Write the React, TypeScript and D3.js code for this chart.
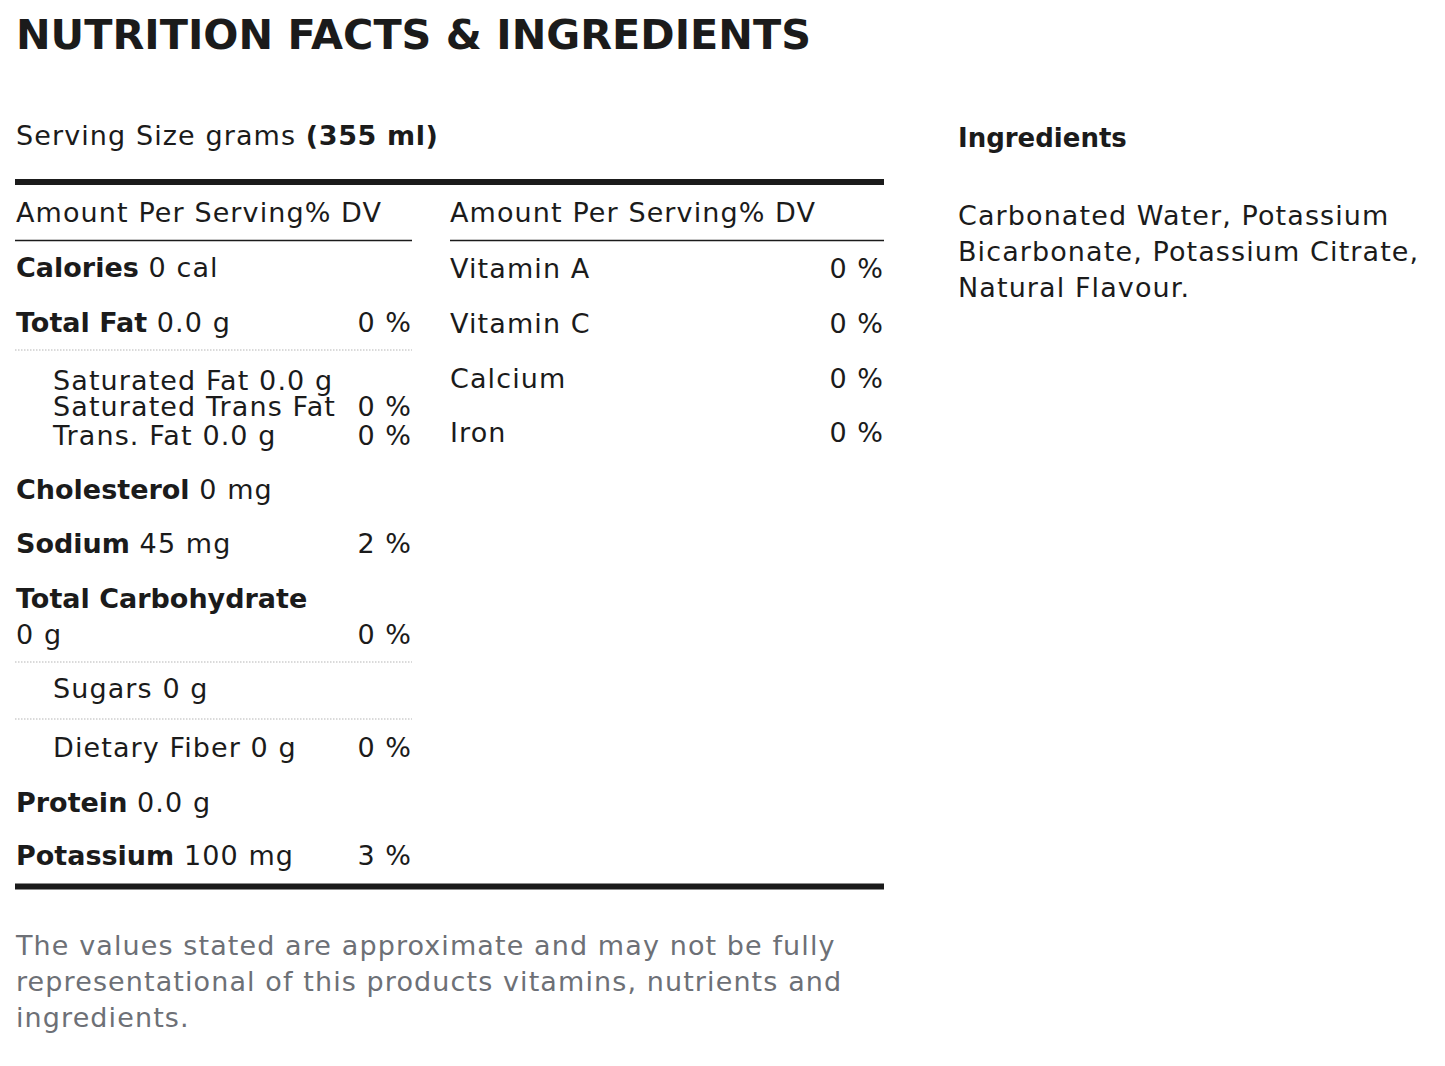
import React from "react";
import * as d3 from "d3";

const title = "NUTRITION FACTS & INGREDIENTS";
const servingLabel = "Serving Size grams ";
const servingValue = "(355 ml)";
const headerText = "Amount Per Serving% DV";

// Left column nutrients
const leftNames = ["Calories", "Total Fat", "Saturated Fat", "Saturated Trans Fat", "Trans. Fat", "Cholesterol", "Sodium", "Total Carbohydrate", "Sugars", "Dietary Fiber", "Protein", "Potassium"];
const leftAmounts = ["0 cal", "0.0 g", "0.0 g", "", "0.0 g", "0 mg", "45 mg", "0 g", "0 g", "0 g", "0.0 g", "100 mg"];
const leftDV = ["", "0 %", "", "0 %", "0 %", "", "2 %", "0 %", "", "0 %", "", "3 %"];
const leftBold = [true, true, false, false, false, true, true, true, false, false, true, true];
const leftIndent = [false, false, true, true, true, false, false, false, true, true, false, false];

// Right column vitamins
const rightNames = ["Vitamin A", "Vitamin C", "Calcium", "Iron"];
const rightDV = ["0 %", "0 %", "0 %", "0 %"];

const ingredientsTitle = "Ingredients";
const ingredientsLines = ["Carbonated Water, Potassium", "Bicarbonate, Potassium Citrate,", "Natural Flavour."];
const footerLines = [
  "The values stated are approximate and may not be fully",
  "representational of this products vitamins, nutrients and",
  "ingredients.",
];

// layout (baselines)
const leftBaselines = [277, 332, 390, 416, 445, 499, 553, 608, 698, 757, 812, 865];
const dottedYs = [350, 662, 719];
const rightBaselines = [278, 333, 388, 442];

const FONT = "'DejaVu Sans', sans-serif";
const INK = "#1b1b1b";
const FS = 27;
const LS = 1.1;

export default function App() {
  const W = 1445, H = 1066;
  const x = d3.scaleLinear().domain([0, 1]).range([16, 411]);
  const xr = d3.scaleLinear().domain([0, 1]).range([450, 883]);
  const reg = { fontSize: FS, fill: INK, letterSpacing: LS } as any;
  return (
    <svg width={W} height={H} style={{ position: "absolute", left: 0, top: 0, background: "#fff" }} fontFamily={FONT}>
      <rect width={W} height={H} fill="#fff" />
      <text x={16} y={49} fontSize={41} fontWeight={700} fill={INK} textLength={795} lengthAdjust="spacingAndGlyphs">{title}</text>
      <text x={16} y={145} {...reg}>
        {servingLabel}<tspan fontWeight={700} letterSpacing={0.6}>{servingValue}</tspan>
      </text>
      <line x1={15} x2={884} y1={182} y2={182} stroke={INK} strokeWidth={6} />
      <text x={x(0)} y={222} {...reg}>{headerText}</text>
      <line x1={15} x2={412} y1={240.5} y2={240.5} stroke={INK} strokeWidth={1.5} />
      <text x={xr(0)} y={222} {...reg}>{headerText}</text>
      <line x1={450} x2={884} y1={240.5} y2={240.5} stroke={INK} strokeWidth={1.5} />
      {dottedYs.map((y, i) => (
        <line key={"d" + i} x1={15} x2={412} y1={y} y2={y} stroke="#b5b5b5" strokeWidth={1} strokeDasharray="1.5,1.5" />
      ))}
      {leftNames.map((n, i) => {
        const y = leftBaselines[i];
        const isCarb = n === "Total Carbohydrate";
        const xx = leftIndent[i] ? 53 : x(0);
        return (
          <g key={n}>
            {isCarb ? (
              <>
                <text x={xx} y={y} fontSize={FS} fill={INK} fontWeight={700}>{n}</text>
                <text x={xx} y={y + 36} {...reg}>{leftAmounts[i]}</text>
                <text x={x(1) + LS} y={y + 36} {...reg} textAnchor="end">{leftDV[i]}</text>
              </>
            ) : (
              <>
                <text x={xx} y={y} {...reg}>
                  <tspan fontWeight={leftBold[i] ? 700 : 400} letterSpacing={leftBold[i] ? 0 : LS}>{n}</tspan>
                  {leftAmounts[i] ? " " + leftAmounts[i] : ""}
                </text>
                {leftDV[i] && <text x={x(1) + LS} y={y} {...reg} textAnchor="end">{leftDV[i]}</text>}
              </>
            )}
          </g>
        );
      })}
      {rightNames.map((n, i) => (
        <g key={n}>
          <text x={xr(0)} y={rightBaselines[i]} {...reg}>{n}</text>
          <text x={xr(1) + LS} y={rightBaselines[i]} {...reg} textAnchor="end">{rightDV[i]}</text>
        </g>
      ))}
      <line x1={15} x2={884} y1={886.5} y2={886.5} stroke={INK} strokeWidth={6} />
      <text x={958} y={147} fontSize={26} fontWeight={700} fill={INK}>{ingredientsTitle}</text>
      {ingredientsLines.map((l, i) => (
        <text key={l} x={958} y={225 + i * 36} {...reg}>{l}</text>
      ))}
      {footerLines.map((l, i) => (
        <text key={l} x={16} y={955 + i * 36} {...reg} fill="#6d7076">{l}</text>
      ))}
    </svg>
  );
}
